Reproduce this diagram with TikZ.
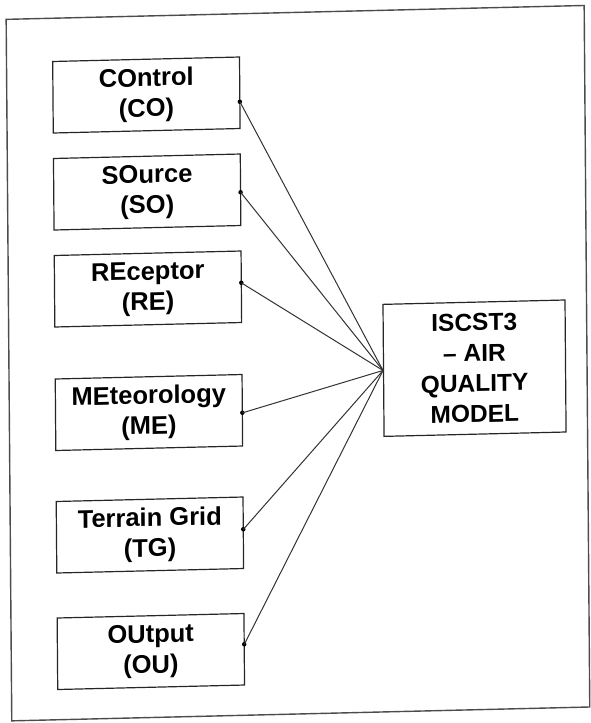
\documentclass[tikz,border=0pt]{standalone}
\usepackage{fontspec}
\setmainfont{Liberation Sans}
\begin{document}
\begin{tikzpicture}[x=1pt,y=-1pt,
  inputbox/.style={draw=black!85, line width=1.2pt, minimum width=186.8pt,
    minimum height=71.5pt, inner sep=0pt, align=center, transform shape,
    font=\fontsize{25.5}{30.5}\selectfont\bfseries},
  modelbox/.style={inputbox, minimum width=182pt, minimum height=132pt,
    font=\fontsize{24.5}{30.5}\selectfont\bfseries},
  joint/.style={circle, fill=black, inner sep=0pt, minimum size=4.5pt},
  link/.style={draw=black!80, line width=1pt}]
\useasboundingbox (0,0) rectangle (590,723);
\begin{scope}[cm={1,0.024,-0.008,1,(0,0)}]
  % page frame
  \draw[black!70, line width=1.4pt] (6,19.5) rectangle (584,721);
  % input sections
  \node[inputbox] (co) at (145.6,98.5)  {COntrol\\(CO)};
  \node[inputbox] (so) at (145.6,195.5) {SOurce\\(SO)};
  \node[inputbox] (re) at (145.6,292.5) {REceptor\\(RE)};
  \node[inputbox] (me) at (145.6,416)   {MEteorology\\(ME)};
  \node[inputbox] (tg) at (145.6,538.5) {Terrain Grid\\(TG)};
  \node[inputbox] (ou) at (145.6,655)   {OUtput\\(OU)};
  % model
  \node[modelbox] (isc) at (471.5,379.5) {ISCST3\\– AIR\\QUALITY\\MODEL};
  % connection points on the right edges
  \node[joint] (coj) at (239,107.5) {};
  \node[joint] (soj) at (239,198)   {};
  \node[joint] (rej) at (239,288.5) {};
  \node[joint] (mej) at (239,418.5) {};
  \node[joint] (tgj) at (239,535)   {};
  \node[joint] (ouj) at (239,650)   {};
  % links to the model
  \foreach \j in {coj,soj,rej,mej,tgj,ouj}
    \draw[link] (\j.center) -- (isc.west);
\end{scope}
\end{tikzpicture}
\end{document}
